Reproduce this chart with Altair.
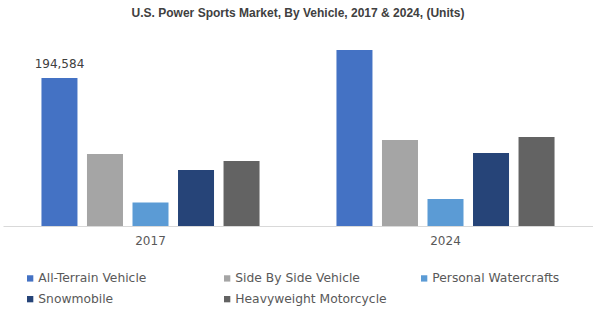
import altair as alt
import pandas as pd

years = ["2017", "2024"]
vehicles = ["All-Terrain Vehicle", "Side By Side Vehicle", "Personal Watercrafts",
            "Snowmobile", "Heavyweight Motorcycle"]
colors = ["#4472C4", "#A5A5A5", "#5B9BD5", "#264478", "#636363"]
values_2017 = [194584, 94700, 30900, 73600, 85500]
values_2024 = [231400, 113100, 35500, 96000, 117000]
label_2017 = ["194,584", "", "", "", ""]
label_2024 = ["", "", "", "", ""]

rows = []
for v, a, la, b, lb in zip(vehicles, values_2017, label_2017, values_2024, label_2024):
    rows.append({"year": "2017", "vehicle": v, "value": a, "label": la})
    rows.append({"year": "2024", "vehicle": v, "value": b, "label": lb})
df = pd.DataFrame(rows)

W, H = 590, 186
ymax = 244600

base = alt.Chart(df).encode(
    x=alt.X("year:N", sort=years,
            scale=alt.Scale(paddingInner=0, paddingOuter=0),
            axis=alt.Axis(title=None, labelAngle=0, ticks=False, domainColor="#d9d9d9",
                          labelFont="DejaVu Sans", labelFontSize=12, labelColor="#595959",
                          labelPadding=9)),
    xOffset=alt.XOffset("vehicle:N", sort=vehicles,
                        scale=alt.Scale(paddingInner=0.209, paddingOuter=0.845)),
    y=alt.Y("value:Q", scale=alt.Scale(domain=[0, ymax]), axis=None),
)

bars = base.mark_bar().encode(
    color=alt.Color("vehicle:N", sort=vehicles,
                    scale=alt.Scale(domain=vehicles, range=colors),
                    legend=alt.Legend(title=None, orient="none", legendX=21, legendY=232,
                                      columns=3, direction="horizontal",
                                      symbolType="square", symbolSize=40,
                                      labelFont="DejaVu Sans", labelFontSize=12.3,
                                      labelColor="#595959", gridAlign="all",
                                      columnPadding=31, rowPadding=8, labelOffset=2,
                                      symbolStrokeWidth=0))
)

text = base.mark_text(dy=-14, font="DejaVu Sans", fontSize=12, color="#404040").encode(
    text="label:N"
)

chart = (bars + text).properties(
    width=W, height=H,
    title=alt.TitleParams("U.S. Power Sports Market, By Vehicle, 2017 & 2024, (Units)",
                          font="Liberation Sans", fontSize=12, fontWeight="bold",
                          color="#404040", anchor="middle", offset=10),
    autosize=alt.AutoSizeParams(type="none"),
    padding={"left": 3, "top": 40, "right": 0, "bottom": 95},
).configure_view(stroke=None)

chart.save("out.html", embed_options={"renderer": "svg", "actions": False})
